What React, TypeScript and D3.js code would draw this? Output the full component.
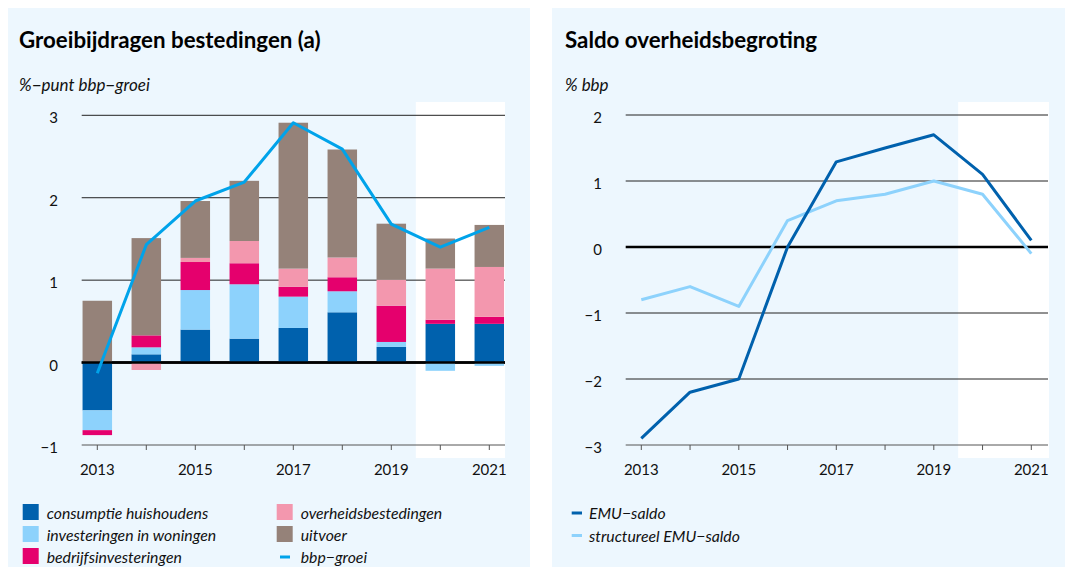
import * as d3 from 'd3';

const years = [2013, 2014, 2015, 2016, 2017, 2018, 2019, 2020, 2021];

// bijdragen aan bbp-groei, %-punt
const consumptie = [-0.58, 0.1, 0.4, 0.29, 0.42, 0.61, 0.19, 0.47, 0.47];
const woningen = [-0.24, 0.085, 0.48, 0.66, 0.38, 0.255, 0.06, -0.1, -0.04];
const bedrijfs = [-0.06, 0.145, 0.34, 0.255, 0.12, 0.17, 0.44, 0.05, 0.085];
const overheid = [0, -0.09, 0.05, 0.27, 0.22, 0.24, 0.315, 0.62, 0.605];
const uitvoer = [0.75, 1.18, 0.69, 0.73, 1.77, 1.31, 0.68, 0.365, 0.51];
const bbpGroei = [-0.13, 1.43, 1.96, 2.19, 2.91, 2.59, 1.68, 1.4, 1.64];

// saldo, % bbp
const emuSaldo = [-2.9, -2.2, -2.0, 0.0, 1.29, 1.5, 1.7, 1.1, 0.1];
const structSaldo = [-0.8, -0.6, -0.9, 0.4, 0.7, 0.8, 1.0, 0.8, -0.1];

const leftTicks = [-1, 0, 1, 2, 3];
const rightTicks = [-3, -2, -1, 0, 1, 2];
const yearLabels = [2013, 2015, 2017, 2019, 2021];

const series = [
  { key: 'consumptie', label: 'consumptie huishoudens', color: '#0061ad', values: consumptie },
  { key: 'woningen', label: 'investeringen in woningen', color: '#8dd2fc', values: woningen },
  { key: 'bedrijfs', label: 'bedrijfsinvesteringen', color: '#e5006d', values: bedrijfs },
  { key: 'overheid', label: 'overheidsbestedingen', color: '#f397ae', values: overheid },
  { key: 'uitvoer', label: 'uitvoer', color: '#958279', values: uitvoer },
];

const BG = '#edf7fe';
const FONT = 'Lato, "Open Sans", sans-serif';
const fmt = (v: number) => (v < 0 ? '\u2212' + Math.abs(v) : String(v));

function Axis({ x, y, ticks, x0, x1, labelX }: any) {
  const yMin = y.domain()[0];
  return (
    <g>
      {ticks.map((t: number) => (
        <g key={t}>
          <line
            x1={x0}
            x2={x1}
            y1={y(t)}
            y2={y(t)}
            stroke={t === 0 ? '#000' : t === yMin ? '#555' : '#222'}
            strokeWidth={t === 0 ? 2.5 : 1}
          />
          <text x={labelX} y={y(t) + 8} textAnchor="end" fontSize={15} fill="#111">
            {fmt(t)}
          </text>
        </g>
      ))}
      {years.map(yr => (
        <line key={yr} x1={x(yr)} x2={x(yr)} y1={y(yMin)} y2={y(yMin) + 5} stroke="#555" />
      ))}
      {yearLabels.map(yr => (
        <text key={yr} x={x(yr)} y={y(yMin) + 30} textAnchor="middle" fontSize={15} fill="#111">
          {yr}
        </text>
      ))}
    </g>
  );
}

function LeftChart() {
  const x = d3.scaleLinear().domain([2013, 2021]).range([97.3, 489.3]);
  const y = d3.scaleLinear().domain([-1, 3]).range([445, 115.3]);
  const bw = 29.5;

  const rows = years.map((yr, i) => {
    const r: any = { year: yr };
    series.forEach(s => (r[s.key] = s.values[i]));
    return r;
  });
  const stacked = d3
    .stack()
    .keys(series.map(s => s.key))
    .offset(d3.stackOffsetDiverging)(rows);

  const line = d3
    .line<number>()
    .x((_, i) => x(years[i]))
    .y(d => y(d));

  return (
    <g>
      <rect x={8} y={8} width={522} height={560} fill={BG} />
      <rect x={x(2019.5)} y={102} width={505 - x(2019.5)} height={356} fill="#fff" />
      <text x={19} y={48} fontSize={22.3} fontWeight={700} fill="#000">
        Groeibijdragen bestedingen (a)
      </text>
      <text x={19} y={91} fontSize={17} fontStyle="italic" fill="#111">
        %−punt bbp−groei
      </text>
      <Axis x={x} y={y} ticks={leftTicks} x0={81.7} x1={505} labelX={58} />
      {stacked.map((layer, li) => (
        <g key={layer.key} fill={series[li].color}>
          {layer.map((d, i) => (
            <rect
              key={i}
              x={x(years[i]) - bw / 2}
              width={bw}
              y={y(Math.max(d[0], d[1]))}
              height={Math.abs(y(d[0]) - y(d[1]))}
            />
          ))}
        </g>
      ))}
      <line x1={81.7} x2={505} y1={y(0)} y2={y(0)} stroke="#000" strokeWidth={2.5} />
      <path d={line(bbpGroei) || ''} fill="none" stroke="#00a3ea" strokeWidth={3} strokeLinejoin="round" />
      {series.map((s, i) => {
        const col = i < 3 ? 0 : 1;
        const row = i < 3 ? i : i - 3;
        const lx = col === 0 ? 22.7 : 276.7;
        const ly = 504 + row * 22;
        return (
          <g key={s.key}>
            <rect x={lx} y={ly} width={16} height={16} fill={s.color} />
            <text x={lx + 24} y={ly + 15} fontSize={15.8} fontStyle="italic" fill="#111">
              {s.label}
            </text>
          </g>
        );
      })}
      <line x1={280} x2={290} y1={557} y2={557} stroke="#00a3ea" strokeWidth={3} />
      <text x={300.7} y={563} fontSize={15.8} fontStyle="italic" fill="#111">
        bbp−groei
      </text>
    </g>
  );
}

function RightChart() {
  const x = d3.scaleLinear().domain([2013, 2021]).range([641.3, 1031.3]);
  const y = d3.scaleLinear().domain([-3, 2]).range([445, 115]);
  const line = d3
    .line<number>()
    .x((_, i) => x(years[i]))
    .y(d => y(d));

  return (
    <g>
      <rect x={552} y={8} width={522} height={560} fill={BG} />
      <rect x={x(2019.5)} y={102} width={1049 - x(2019.5)} height={356} fill="#fff" />
      <text x={565} y={48} fontSize={22.3} fontWeight={700} fill="#000">
        Saldo overheidsbegroting
      </text>
      <text x={565} y={91} fontSize={17} fontStyle="italic" fill="#111">
        % bbp
      </text>
      <Axis x={x} y={y} ticks={rightTicks} x0={625.7} x1={1048} labelX={602} />
      <path d={line(structSaldo) || ''} fill="none" stroke="#8dd2fc" strokeWidth={3} strokeLinejoin="round" />
      <path d={line(emuSaldo) || ''} fill="none" stroke="#0061ad" strokeWidth={3} strokeLinejoin="round" />
      <line x1={571.7} x2={582} y1={513} y2={513} stroke="#0061ad" strokeWidth={3} />
      <text x={589} y={519} fontSize={15.8} fontStyle="italic" fill="#111">
        EMU−saldo
      </text>
      <line x1={571.7} x2={582} y1={535.5} y2={535.5} stroke="#8dd2fc" strokeWidth={3} />
      <text x={589} y={541.5} fontSize={15.8} fontStyle="italic" fill="#111">
        structureel EMU−saldo
      </text>
    </g>
  );
}

export default function App() {
  return (
    <svg
      width={1065}
      height={567}
      style={{ position: 'absolute', left: 0, top: 0, fontFamily: FONT }}
    >
      <rect width={1065} height={567} fill="#fff" />
      <LeftChart />
      <RightChart />
    </svg>
  );
}
